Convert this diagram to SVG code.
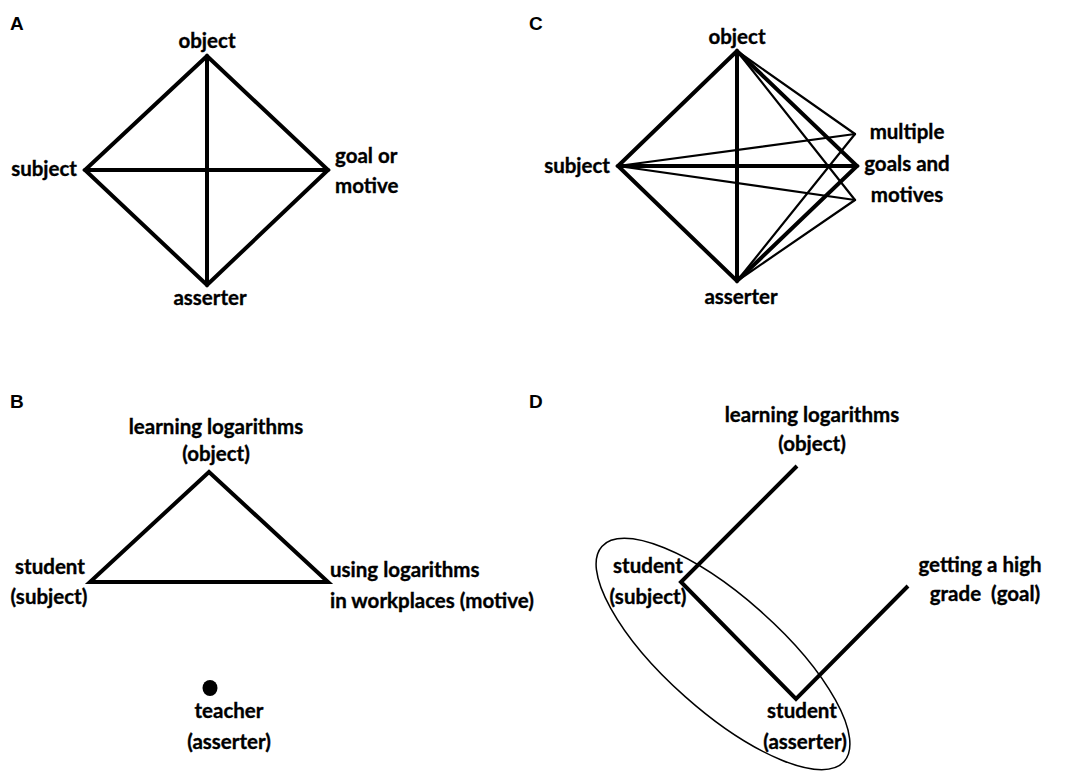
<svg xmlns="http://www.w3.org/2000/svg" width="1069" height="774" viewBox="0 0 1069 774">
<style>
.t{font-family:Lato,"Open Sans","Liberation Sans",sans-serif;font-weight:bold;font-size:20.5px;fill:#000;stroke:#000;stroke-width:0.35}
.m{text-anchor:middle}
.e{text-anchor:end}
.p{font-family:"Liberation Sans",Arial,sans-serif;font-weight:bold;font-size:19px;fill:#000}
.k{stroke:#000;stroke-width:4;stroke-linecap:round;stroke-linejoin:miter;fill:none}
.n{stroke:#000;stroke-width:2.2;stroke-linecap:round;fill:none}
</style>
<rect width="1069" height="774" fill="#fff"/>
<g id="panel-labels">
<text class="p" x="10" y="30">A</text>
<text class="p" x="529" y="30">C</text>
<text class="p" x="10" y="408">B</text>
<text class="p" x="529" y="408">D</text>
</g>
<g id="connectors">
<path class="k" d="M207,56 L85,170 L207,285 L328,170 Z"/>
<line class="k" x1="207" y1="56" x2="207" y2="285"/>
<line class="k" x1="85" y1="170" x2="328" y2="170"/>
<path class="k" d="M737,51 L618,166 L737,281 L857,166 Z"/>
<line class="k" x1="737" y1="51" x2="737" y2="281"/>
<line class="k" x1="618" y1="166" x2="857" y2="166"/>
<line class="n" x1="737" y1="51" x2="855" y2="134"/>
<line class="n" x1="737" y1="51" x2="855" y2="200"/>
<line class="n" x1="618" y1="166" x2="855" y2="134"/>
<line class="n" x1="618" y1="166" x2="855" y2="200"/>
<line class="n" x1="737" y1="281" x2="855" y2="134"/>
<line class="n" x1="737" y1="281" x2="855" y2="200"/>
<path class="k" d="M209,472 L90,582 L328,582 Z"/>
<polyline class="k" points="797,466 681,582 796,699 908,586" style="stroke-linecap:butt"/>
</g>
<g id="D-group-ellipse">
<ellipse cx="723" cy="654" rx="162" ry="57" transform="rotate(41.6 723 654)" fill="none" stroke="#000" stroke-width="1.5"/>
</g>
<g id="A-object"><text class="t m" x="207" y="48">object</text></g>
<g id="A-subject"><text class="t e" x="77" y="176">subject</text></g>
<g id="A-goal"><text class="t" x="335" y="163">goal or</text><text class="t" x="335" y="193">motive</text></g>
<g id="A-asserter"><text class="t m" x="210" y="305">asserter</text></g>
<g id="C-object"><text class="t m" x="737" y="44">object</text></g>
<g id="C-subject"><text class="t e" x="610" y="173">subject</text></g>
<g id="C-goals"><text class="t m" x="907" y="139">multiple</text><text class="t m" x="907" y="171">goals and</text><text class="t m" x="907" y="202">motives</text></g>
<g id="C-asserter"><text class="t m" x="741" y="304">asserter</text></g>
<g id="B-object"><text class="t m" x="216" y="434">learning logarithms</text><text class="t m" x="216" y="461">(object)</text></g>
<g id="B-subject"><text class="t m" x="50" y="574">student</text><text class="t m" x="49" y="604">(subject)</text></g>
<g id="B-motive"><text class="t" x="330" y="577">using logarithms</text><text class="t" x="330" y="608">in workplaces (motive)</text></g>
<g id="B-asserter"><ellipse cx="210" cy="688" rx="7.5" ry="8" fill="#000"/><text class="t m" x="229" y="718">teacher</text><text class="t m" x="229" y="749">(asserter)</text></g>
<g id="D-object"><text class="t m" x="812" y="422">learning logarithms</text><text class="t m" x="812" y="451">(object)</text></g>
<g id="D-subject"><text class="t m" x="648" y="573">student</text><text class="t m" x="648" y="604">(subject)</text></g>
<g id="D-goal"><text class="t m" x="980" y="572">getting a high</text><text class="t m" x="985" y="601" xml:space="preserve">grade  (goal)</text></g>
<g id="D-asserter"><text class="t m" x="802" y="718">student</text><text class="t m" x="805" y="749">(asserter)</text></g>
</svg>
